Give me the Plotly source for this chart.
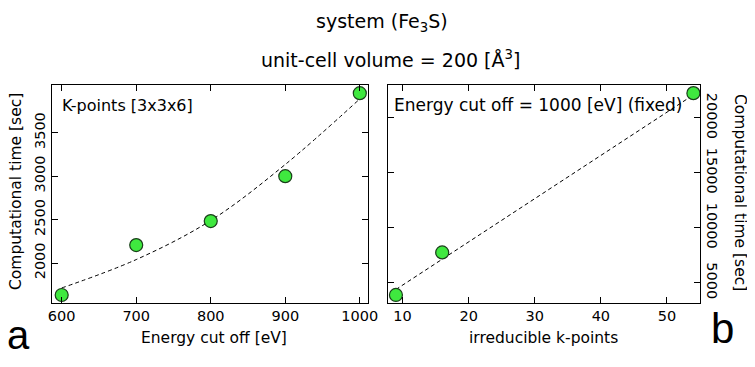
import plotly.graph_objects as go

# panel a: energy cut-off scan, k-points fixed at 3x3x6
cutoff = [600, 700, 800, 900, 1000]
time_cutoff = [1632, 2207, 2483, 3000, 3956]
# dashed fit curve
fit_cutoff_x = [600, 700, 800, 900, 1000]
fit_cutoff_y = [1713, 2040, 2490, 3135, 3890]

# panel b: k-point scan, cut-off fixed at 1000 eV
kpoints = [9, 16, 54]
time_kpoints = [3900, 7770, 22260]
fit_kpoints_x = [9, 54]
fit_kpoints_y = [4400, 22100]

FONT = "DejaVu Sans"
GREEN = "#3fe83f"

# page body has an 8px margin, so the figure is drawn 8px smaller and
# every screen position below is shifted by it
OFF = 8
W, H = 755 - OFF, 367 - OFF
L, R, T, B = 52 - OFF, 55, 85 - OFF, 64
PW, PH = W - L - R, H - T - B

fig = go.Figure()

fig.add_trace(go.Scatter(
    x=fit_cutoff_x, y=fit_cutoff_y, mode="lines", line_shape="spline",
    line=dict(color="black", width=1, dash="4px,3px"),
    xaxis="x", yaxis="y", hoverinfo="skip"
))
fig.add_trace(go.Scatter(
    x=cutoff, y=time_cutoff, mode="markers",
    marker=dict(size=13, color=GREEN, line=dict(color="#1a3d1a", width=1.2)),
    xaxis="x", yaxis="y"
))
fig.add_trace(go.Scatter(
    x=fit_kpoints_x, y=fit_kpoints_y, mode="lines",
    line=dict(color="black", width=1, dash="4px,3px"),
    xaxis="x2", yaxis="y2", hoverinfo="skip"
))
fig.add_trace(go.Scatter(
    x=kpoints, y=time_kpoints, mode="markers",
    marker=dict(size=13, color=GREEN, line=dict(color="#1a3d1a", width=1.2)),
    xaxis="x2", yaxis="y2"
))

axis_style = dict(
    showline=True, linecolor="black", linewidth=1, mirror="ticks",
    ticks="inside", ticklen=6, tickcolor="black", showgrid=False,
    zeroline=False, tickfont=dict(family=FONT, size=14.5, color="black")
)

fig.update_layout(
    width=W, height=H,
    margin=dict(l=L, r=R, t=T, b=B),
    showlegend=False,
    plot_bgcolor="white", paper_bgcolor="white",
    font=dict(family=FONT, color="black"),
    xaxis=dict(domain=[0, (368 - 52) / PW], range=[587, 1011],
               tickvals=[600, 700, 800, 900, 1000], **axis_style),
    yaxis=dict(range=[1540, 4050], tickvals=[2000, 2500, 3000, 3500],
               tickangle=-90, **axis_style),
    xaxis2=dict(domain=[(388 - 52) / PW, 1], range=[7.8, 55], anchor="y2",
                tickvals=[10, 20, 30, 40, 50], **axis_style),
    yaxis2=dict(range=[3170, 23000], anchor="x2", side="right",
                tickvals=[5000, 10000, 15000, 20000], tickformat="d",
                tickangle=90, **axis_style),
)


def add_text(text, xp, yp, size, angle=0, xanchor="center", family=FONT):
    # xp, yp are pixel positions in the reference picture
    fig.add_annotation(
        text=text, xref="paper", yref="paper",
        x=(xp - OFF - L) / PW, y=(H - (yp - OFF) - B) / PH,
        xanchor=xanchor, yanchor="middle", textangle=angle,
        showarrow=False, borderpad=0,
        font=dict(family=family, size=size, color="black")
    )


add_text("system (Fe<sub>3</sub>S)", 382, 22, 19)
add_text("unit-cell volume = 200 [Å<sup>3</sup>]", 390, 59, 19)
add_text("Energy cut off [eV]", 214, 338, 15.5)
add_text("irreducible k-points", 543, 338, 15.5)
add_text("Computational time [sec]", 16, 192, 15.5, angle=-90)
add_text("Computational time [sec]", 740, 192, 15.5, angle=90)
add_text("K-points [3x3x6]", 61, 105, 16, xanchor="left")
add_text("Energy cut off = 1000 [eV] (fixed)", 393, 105, 17, xanchor="left")

# panel letters
add_text("a", 18, 335, 40, family="Liberation Sans")
add_text("b", 722, 328, 42, family="Liberation Sans")

fig.write_html("out.html")
